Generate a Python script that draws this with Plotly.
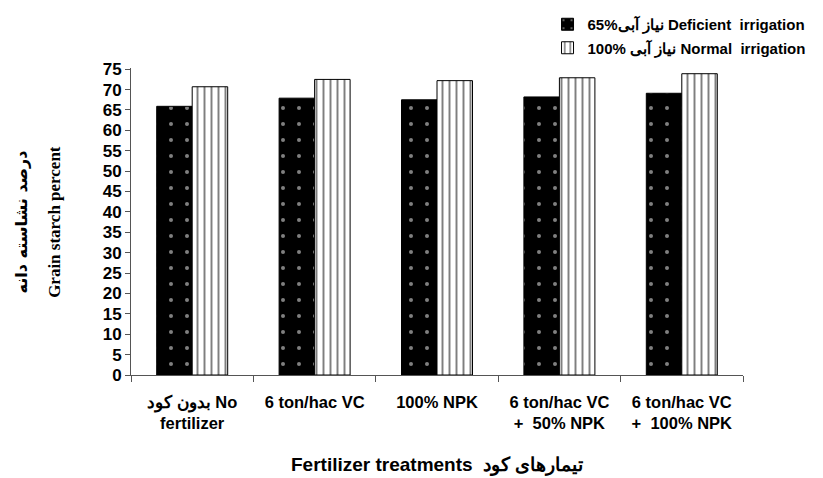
import plotly.graph_objects as go

# fertilizer treatments (x categories)
categories = [
    "بدون کود No<br>fertilizer",
    "6 ton/hac VC",
    "100% NPK",
    "6 ton/hac VC<br>+\u00a0\u00a050% NPK",
    "6 ton/hac VC<br>+\u00a0\u00a0100% NPK",
]
deficient = [65.9, 67.9, 67.5, 68.2, 69.1]
normal = [70.7, 72.5, 72.2, 72.9, 73.9]
y_ticks = list(range(0, 80, 5))

name_deficient = "65%نیاز آبی Deficient\u00a0\u00a0irrigation"
name_normal = "100% نیاز آبی Normal\u00a0\u00a0irrigation"

FONT = "Liberation Sans, Arial, sans-serif"

fig = go.Figure()
fig.add_trace(go.Bar(
    x=categories, y=deficient, name=name_deficient, legendgroup="a",
    marker=dict(color="black", line=dict(color="black", width=1),
                pattern=dict(shape=".", fgcolor="white", bgcolor="black",
                             size=16, solidity=0.05)),
))
fig.add_trace(go.Bar(
    x=categories, y=normal, name=name_normal, legendgroup="b",
    marker=dict(color="white", line=dict(color="black", width=1),
                pattern=dict(shape="|", fgcolor="black", bgcolor="white",
                             size=7, solidity=0.28)),
))

# page body has an 8px margin, so the figure is a bit smaller than the window
fig.update_layout(
    width=815, height=470,
    margin=dict(l=123, r=80, t=60, b=103, autoexpand=False),
    paper_bgcolor="white", plot_bgcolor="white",
    font=dict(family=FONT, size=14, color="black", weight="bold"),
    barmode="group", bargap=0.42, bargroupgap=0,
    legend=dict(
        xref="container", yref="container", x=0.662, y=1.0,
        xanchor="left", yanchor="top",
        font=dict(size=15, weight="bold"),
        traceorder="grouped", tracegroupgap=1,
        bgcolor="rgba(0,0,0,0)",
    ),
    showlegend=True,
)
fig.update_xaxes(
    showline=True, linecolor="#555", linewidth=1,
    ticks="outside", ticklen=6, tickcolor="#555", tickson="boundaries",
    tickfont=dict(size=16.5), tickangle=0, ticklabelstandoff=12, showgrid=False,
)
fig.update_yaxes(
    range=[0, 75.3], tickvals=y_ticks,
    showline=True, linecolor="#555", linewidth=1,
    ticks="outside", ticklen=5, tickcolor="#555",
    tickfont=dict(size=17), showgrid=False, zeroline=False,
)

fig.add_annotation(
    text="درصد نشاسته دانه", xref="paper", yref="paper",
    x=-0.197, y=0.5, textangle=-90, showarrow=False,
    font=dict(family="DejaVu Sans, sans-serif", size=16, weight="bold"),
)
fig.add_annotation(
    text="Grain starch percent", xref="paper", yref="paper",
    x=-0.144, y=0.5, textangle=-90, showarrow=False,
    font=dict(family="Liberation Serif, Times New Roman, serif", size=17, weight="bold"),
)
fig.add_annotation(
    text="Fertilizer treatments\u00a0\u00a0تیمارهای کود", xref="paper", yref="paper",
    x=0.5, y=-0.294, yanchor="middle", showarrow=False,
    font=dict(size=19, weight="bold"),
)

fig.write_html("out.html")
